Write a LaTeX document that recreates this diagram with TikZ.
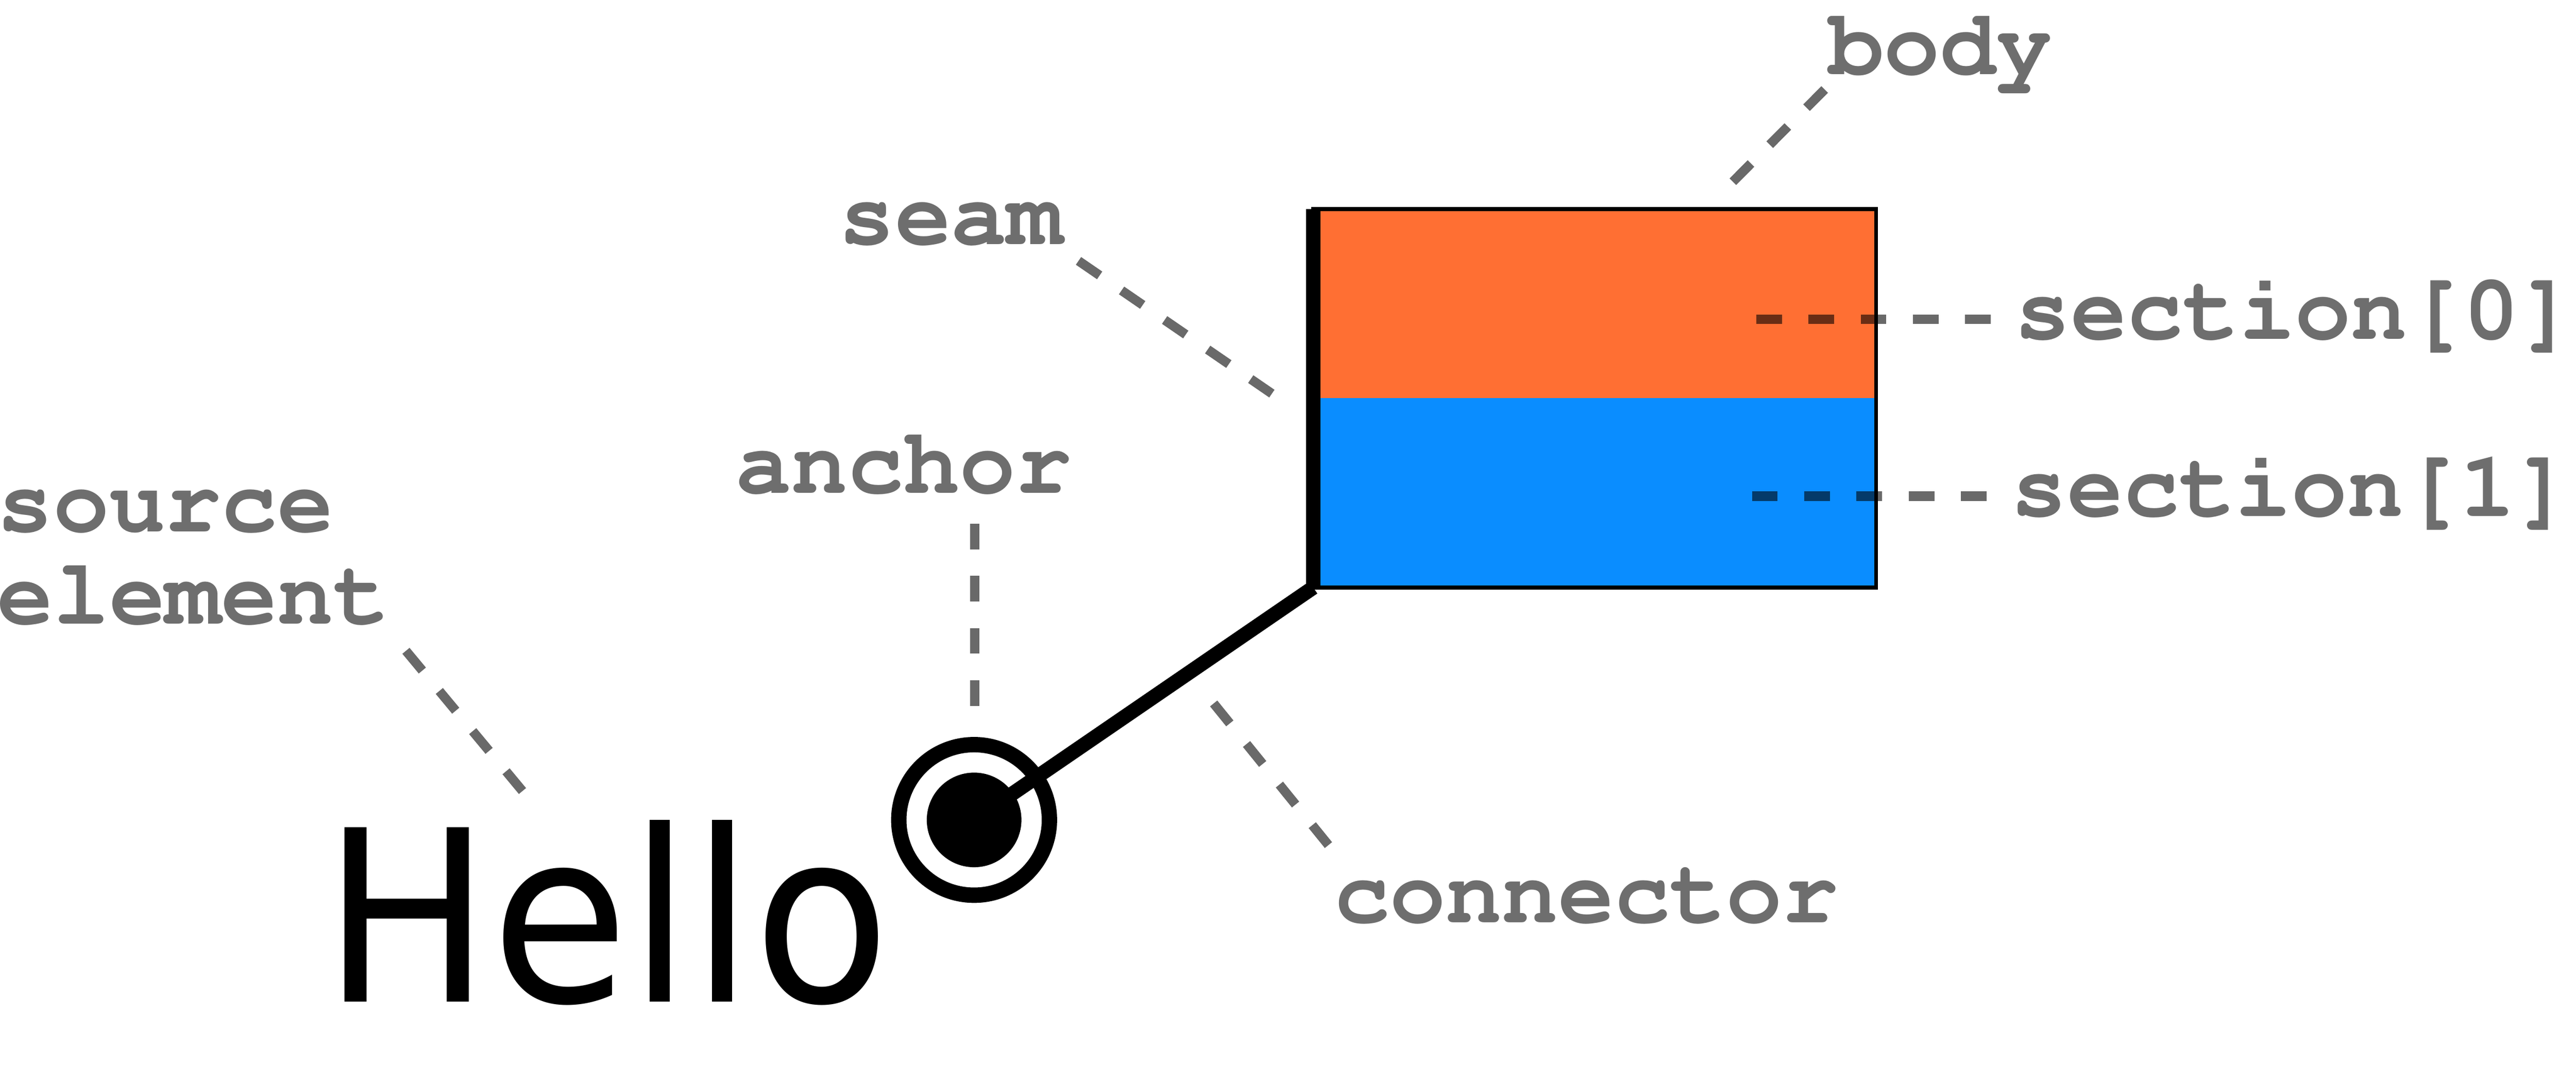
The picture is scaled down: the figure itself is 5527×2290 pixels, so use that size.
\documentclass[tikz,border=0pt]{standalone}
\usepackage[T1]{fontenc}
\usepackage{fontspec}
\usepackage{graphicx}
\newcommand{\lblfont}{\fontencoding{T1}\fontfamily{pcr}\fontseries{b}\fontshape{n}\selectfont}
\newfontfamily\hellofont{DejaVu Sans}
\definecolor{secorange}{RGB}{255,111,51}
\definecolor{secblue}{RGB}{10,141,255}
\definecolor{lblgray}{RGB}{110,110,110}
\begin{document}
\begin{tikzpicture}[x=0.01cm,y=-0.01cm,
  lbl/.style={font=\lblfont\fontsize{57}{56}\selectfont, text=lblgray, inner sep=0pt, outer sep=0pt, anchor=base west},
  leader/.style={line width=0.2cm, draw=black, draw opacity=0.59, dash pattern=on 0.55cm off 0.57cm},
  section/.style={rectangle, inner sep=0pt, outer sep=0pt, minimum width=12.07cm, minimum height=4.06cm},
  heavy/.style={line width=0.31cm, draw=black}]
\useasboundingbox (0,0) rectangle (5527,2290);
% sections of the body
\node[section, fill=secorange] (sec0) at (3421.5,652) {};
\node[section, fill=secblue] (sec1) at (3421.5,1058) {};
% labels
\node[lbl] (bodylbl) at (3922,160) {body};
\node[lbl] (seamlbl) at (1800,524) {seam};
\node[lbl] (sec0lbl) at (4323,728) {section[0]};
\node[lbl] (sec1lbl) at (4315,1108) {section[1]};
\node[lbl] (anchorlbl) at (1578,1058) {anchor};
\node[lbl] (srclblA) at (-6,1141) {source};
\node[lbl] (srclblB) at (-6,1339) {element};
\node[lbl] (connlbl) at (2862,1980) {connector};
\node[font=\hellofont\fontsize{146}{146}\selectfont, inner sep=0pt, outer sep=0pt, anchor=base west] (hello) at (693,2150) {\scalebox{0.935}[1]{Hello}};
% leader end points
\coordinate (bodyA) at (3718,390);
\coordinate (bodyB) at (3915,192);
\coordinate (seamA) at (2314,560);
\coordinate (seamB) at (2729,845);
\coordinate (s0A) at (3768,685.6);
\coordinate (s0B) at (4271,685.6);
\coordinate (s1A) at (3759,1065);
\coordinate (s1B) at (4263,1065);
\coordinate (ancA) at (2091,1124);
\coordinate (ancB) at (2091,1515);
\coordinate (srcA) at (871,1397);
\coordinate (srcB) at (1121,1698);
\coordinate (conA) at (2604,1510);
\coordinate (conB) at (2851,1815);
% leaders
\draw[leader] (bodyA) -- (bodyB);
\draw[leader] (seamA) -- (seamB);
\draw[leader] (s0A) -- (s0B);
\draw[leader] (s1A) -- (s1B);
\draw[leader] (ancA) -- (ancB);
\draw[leader] (srcA) -- (srcB);
\draw[leader] (conA) -- (conB);
% body outline and seam
\node[rectangle, draw=black, line width=0.08cm, inner sep=0pt, outer sep=0pt, minimum width=12.07cm, minimum height=8.12cm] (body) at (3421.5,855) {};
\draw[heavy] (body.north west) -- (body.south west);
% anchor ring and dot
\node[circle, draw=black, line width=0.33cm, inner sep=0pt, minimum size=3.23cm] (ring) at (2090,1760) {};
\node[circle, fill=black, inner sep=0pt, minimum size=2.03cm] (dot) at (2090,1760) {};
% connector
\draw[heavy] (dot.center) -- (body.south west);
\end{tikzpicture}
\end{document}
